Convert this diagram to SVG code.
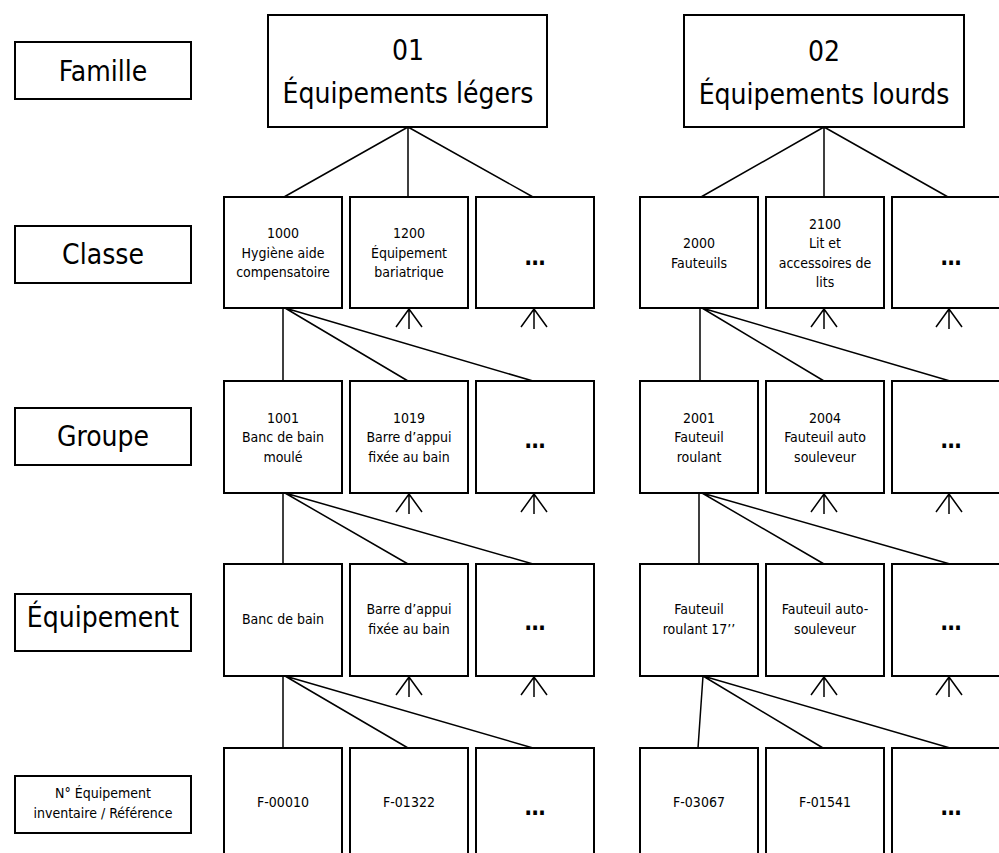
<svg xmlns="http://www.w3.org/2000/svg" width="999" height="853" viewBox="0 0 999 853">
  <style>
    .box { fill: #fff; stroke: #000; stroke-width: 2; }
    .ln { fill: none; stroke: #000; stroke-width: 1.5; }
    text { font-family: "DejaVu Sans Condensed", "DejaVu Sans", sans-serif; font-stretch: condensed; fill: #000; text-anchor: middle; }
    .lbl { font-size: 28px; }
    .fam { font-size: 28px; }
    .sm { font-size: 14px; }
    .dots { font-size: 23px; font-weight: bold; }
  </style>
  <defs>
    <!-- crow's foot: "many" end of a relation -->
    <path id="crow" class="ln" d="M0,0 V21 M0,1 L-13,19 M0,1 L13,19"/>
  </defs>

  <rect width="999" height="853" fill="#fff"/>

  <!-- level labels -->
  <g id="lbl-famille"><rect class="box" x="15" y="42" width="176" height="57"/><text class="lbl" x="103" y="81">Famille</text></g>
  <g id="lbl-classe"><rect class="box" x="15" y="226" width="176" height="57"/><text class="lbl" x="103" y="264">Classe</text></g>
  <g id="lbl-groupe"><rect class="box" x="15" y="408" width="176" height="57"/><text class="lbl" x="103" y="446">Groupe</text></g>
  <g id="lbl-equipement"><rect class="box" x="15" y="594" width="176" height="57"/><text class="lbl" x="103" y="627">Équipement</text></g>
  <g id="lbl-reference"><rect class="box" x="15" y="776" width="176" height="57"/>
    <text class="sm" x="103" y="798">N° Équipement</text>
    <text class="sm" x="103" y="817.5">inventaire / Référence</text></g>

  <!-- connectors -->
  <g id="connectors">
    <path class="ln" d="M408,127 L284,197 M408,127 V197 M408,127 L533,197"/>
    <path class="ln" d="M824,127 L701,197 M824,127 V197 M824,127 L948,197"/>

    <path class="ln" d="M283,308 V381 M285,308 L408,381 M285,308 L533,381"/>
    <path class="ln" d="M700,308 V381 M702,308 L824,381 M702,308 L950,381"/>

    <path class="ln" d="M283,493 V564 M285,493 L408,564 M285,493 L533,564"/>
    <path class="ln" d="M699,493 V564 M702,493 L824,564 M702,493 L950,564"/>

    <path class="ln" d="M283,676 V748 M285,676 L408,748 M285,676 L533,748"/>
    <path class="ln" d="M703,676 L698,748 M703,676 L823,748 M703,676 L950,748"/>

    <use href="#crow" x="409" y="308"/><use href="#crow" x="534" y="308"/>
    <use href="#crow" x="824" y="308"/><use href="#crow" x="949" y="308"/>
    <use href="#crow" x="409" y="493"/><use href="#crow" x="534" y="493"/>
    <use href="#crow" x="824" y="493"/><use href="#crow" x="949" y="493"/>
    <use href="#crow" x="409" y="676"/><use href="#crow" x="534" y="676"/>
    <use href="#crow" x="824" y="676"/><use href="#crow" x="949" y="676"/>
  </g>

  <!-- families -->
  <g id="fam-01"><rect class="box" x="268" y="15" width="279" height="112"/>
    <text class="fam" x="408" y="60">01</text>
    <text class="fam" x="408" y="103">Équipements légers</text></g>
  <g id="fam-02"><rect class="box" x="684" y="15" width="280" height="112"/>
    <text class="fam" x="824" y="61">02</text>
    <text class="fam" x="824" y="103.5">Équipements lourds</text></g>

  <!-- classes -->
  <g id="cl-1000"><rect class="box" x="224" y="197" width="118" height="111"/>
    <text class="sm" x="283" y="238">1000</text><text class="sm" x="283" y="257.5">Hygiène aide</text><text class="sm" x="283" y="277">compensatoire</text></g>
  <g id="cl-1200"><rect class="box" x="350" y="197" width="118" height="111"/>
    <text class="sm" x="409" y="238">1200</text><text class="sm" x="409" y="257.5">Équipement</text><text class="sm" x="409" y="277">bariatrique</text></g>
  <g id="cl-more-1"><rect class="box" x="476" y="197" width="118" height="111"/>
    <text class="dots" x="535" y="265">…</text></g>
  <g id="cl-2000"><rect class="box" x="640" y="197" width="118" height="111"/>
    <text class="sm" x="699" y="248">2000</text><text class="sm" x="699" y="267.5">Fauteuils</text></g>
  <g id="cl-2100"><rect class="box" x="766" y="197" width="118" height="111"/>
    <text class="sm" x="825" y="228.5">2100</text><text class="sm" x="825" y="248">Lit et</text><text class="sm" x="825" y="267.5">accessoires de</text><text class="sm" x="825" y="287">lits</text></g>
  <g id="cl-more-2"><rect class="box" x="892" y="197" width="118" height="111"/>
    <text class="dots" x="951" y="265">…</text></g>

  <!-- groups -->
  <g id="gr-1001"><rect class="box" x="224" y="381" width="118" height="112"/>
    <text class="sm" x="283" y="422.5">1001</text><text class="sm" x="283" y="442">Banc de bain</text><text class="sm" x="283" y="461.5">moulé</text></g>
  <g id="gr-1019"><rect class="box" x="350" y="381" width="118" height="112"/>
    <text class="sm" x="409" y="422.5">1019</text><text class="sm" x="409" y="442">Barre d’appui</text><text class="sm" x="409" y="461.5">fixée au bain</text></g>
  <g id="gr-more-1"><rect class="box" x="476" y="381" width="118" height="112"/>
    <text class="dots" x="535" y="448">…</text></g>
  <g id="gr-2001"><rect class="box" x="640" y="381" width="118" height="112"/>
    <text class="sm" x="699" y="422.5">2001</text><text class="sm" x="699" y="442">Fauteuil</text><text class="sm" x="699" y="461.5">roulant</text></g>
  <g id="gr-2004"><rect class="box" x="766" y="381" width="118" height="112"/>
    <text class="sm" x="825" y="422.5">2004</text><text class="sm" x="825" y="442">Fauteuil auto</text><text class="sm" x="825" y="461.5">souleveur</text></g>
  <g id="gr-more-2"><rect class="box" x="892" y="381" width="118" height="112"/>
    <text class="dots" x="951" y="448">…</text></g>

  <!-- equipment -->
  <g id="eq-banc"><rect class="box" x="224" y="564" width="118" height="112"/>
    <text class="sm" x="283" y="624">Banc de bain</text></g>
  <g id="eq-barre"><rect class="box" x="350" y="564" width="118" height="112"/>
    <text class="sm" x="409" y="614">Barre d’appui</text><text class="sm" x="409" y="633.5">fixée au bain</text></g>
  <g id="eq-more-1"><rect class="box" x="476" y="564" width="118" height="112"/>
    <text class="dots" x="535" y="630">…</text></g>
  <g id="eq-fauteuil"><rect class="box" x="640" y="564" width="118" height="112"/>
    <text class="sm" x="699" y="614">Fauteuil</text><text class="sm" x="699" y="633.5">roulant 17’’</text></g>
  <g id="eq-souleveur"><rect class="box" x="766" y="564" width="118" height="112"/>
    <text class="sm" x="825" y="614">Fauteuil auto-</text><text class="sm" x="825" y="633.5">souleveur</text></g>
  <g id="eq-more-2"><rect class="box" x="892" y="564" width="118" height="112"/>
    <text class="dots" x="951" y="630">…</text></g>

  <!-- inventory references -->
  <g id="ref-00010"><rect class="box" x="224" y="748" width="118" height="120"/>
    <text class="sm" x="283" y="807">F-00010</text></g>
  <g id="ref-01322"><rect class="box" x="350" y="748" width="118" height="120"/>
    <text class="sm" x="409" y="807">F-01322</text></g>
  <g id="ref-more-1"><rect class="box" x="476" y="748" width="118" height="120"/>
    <text class="dots" x="535" y="815">…</text></g>
  <g id="ref-03067"><rect class="box" x="640" y="748" width="118" height="120"/>
    <text class="sm" x="699" y="807">F-03067</text></g>
  <g id="ref-01541"><rect class="box" x="766" y="748" width="118" height="120"/>
    <text class="sm" x="825" y="807">F-01541</text></g>
  <g id="ref-more-2"><rect class="box" x="892" y="748" width="118" height="120"/>
    <text class="dots" x="951" y="815">…</text></g>
</svg>
